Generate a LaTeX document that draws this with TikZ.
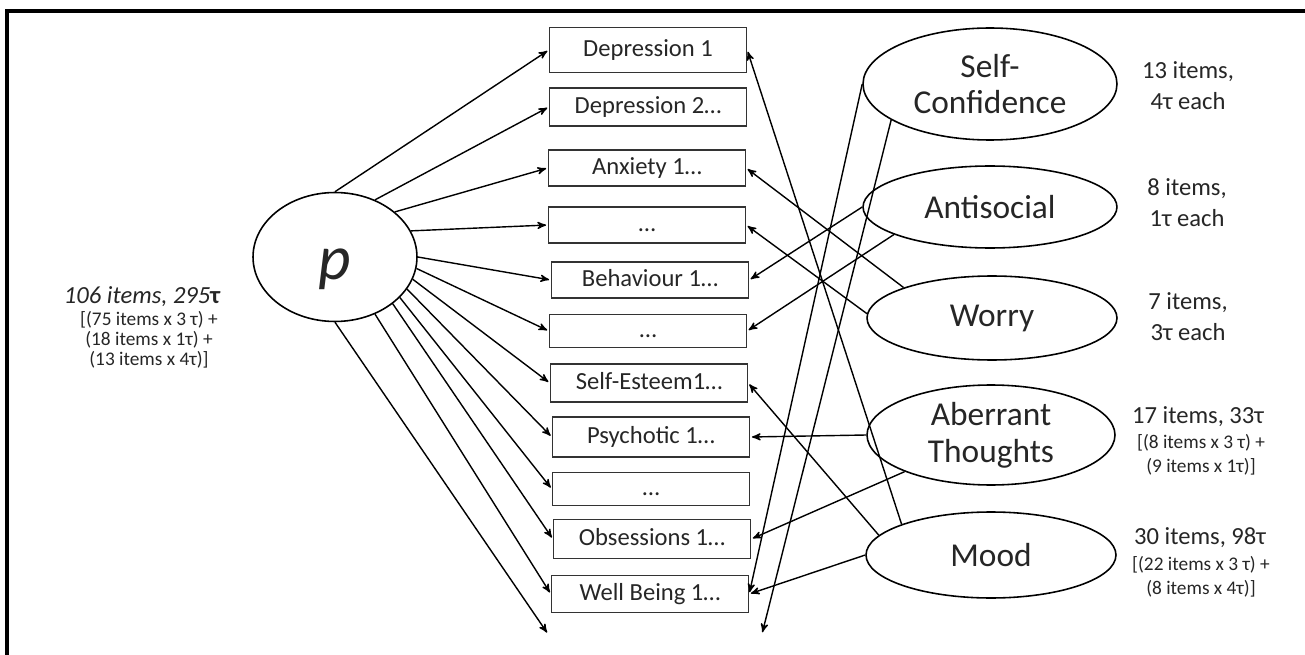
\documentclass[tikz,border=0pt]{standalone}
\usepackage{fontspec}
\setmainfont{Carlito}
\usetikzlibrary{arrows,shapes.geometric}
\tikzset{
	item/.style={draw=black!80, line width=0.8pt, minimum width=3.94cm, minimum height=0.72cm, inner sep=0pt, text height=10pt, text depth=3pt, font=\fontsize{14}{16}\selectfont},
	factor/.style={ellipse, draw, line width=0.9pt, inner sep=0pt, align=center, font=\fontsize{19}{21}\selectfont},
	count/.style={align=center, font=\fontsize{14}{17.5}\selectfont},
	split/.style={align=center, font=\fontsize{11}{13.5}\selectfont}
}

\begin{document}
\begin{tikzpicture}[->,>=stealth',shorten >=1pt,x=0.02cm,y=-0.02cm,line width=0.8pt,text=black!85]

	\useasboundingbox (0,0) rectangle (1305,655);
	\draw[-,line width=1.8pt,shorten >=0pt] (1305,11) -- (7,11) -- (7,655);

	\node[factor, minimum width=3.28cm, minimum height=2.58cm, text height=28pt, text depth=2pt, font=\fontsize{36}{40}\selectfont\itshape] (p) at (335,257) {p};

	\node[item, minimum height=0.9cm] (dep1) at (648,50) {Depression 1};
	\node[item, minimum height=0.76cm] (dep2) at (648,107) {Depression 2…};
	\node[item] (anx) at (647,168) {Anxiety 1…};
	\node[item] (dots1) at (647,225) {…};
	\node[item] (beh) at (650,280) {Behaviour 1…};
	\node[item, minimum height=0.66cm] (dots2) at (648,331) {…};
	\node[item, minimum height=0.76cm] (se) at (649,383) {Self-Esteem1…};
	\node[item, minimum height=0.8cm] (psy) at (651,437) {Psychotic 1…};
	\node[item, minimum height=0.66cm] (dots3) at (651,489) {…};
	\node[item, minimum height=0.78cm] (obs) at (652,539) {Obsessions 1…};
	\node[item, minimum height=0.74cm] (wb) at (650,594) {Well Being 1…};
	\coordinate (pend) at (548,634);
	\coordinate (confend) at (762,634);

	\node[factor, minimum width=5.08cm, minimum height=2.24cm] (conf) at (990,84) {Self-\\Confidence};
	\node[factor, minimum width=5.08cm, minimum height=1.64cm] (anti) at (990,207) {Antisocial};
	\node[factor, minimum width=5.0cm, minimum height=1.68cm] (worry) at (992,318) {Worry};
	\node[factor, minimum width=4.96cm, minimum height=2.0cm] (aber) at (991,435) {Aberrant\\Thoughts};
	\node[factor, minimum width=5.0cm, minimum height=1.72cm] (mood) at (991,555) {Mood};

	\node[count, font=\fontsize{14}{17.5}\selectfont\itshape] (ptotal) at (142,297) {106 items, 295{\upshape\bfseries τ}};
	\node[split, font=\fontsize{11}{11.5}\selectfont] (pmix) at (149,340) {[(75 items x 3 τ) +\\(18 items x 1τ) +\\(13 items x 4τ)]};
	\node[count] (conftotal) at (1188,86) {13 items,\\4τ each};
	\node[count] (antitotal) at (1187,203) {8 items,\\1τ each};
	\node[count] (worrytotal) at (1188,317) {7 items,\\3τ each};
	\node[count] (abertotal) at (1198,417) {17 items, 33τ};
	\node[split] (abermix) at (1201,455) {[(8 items x 3 τ) +\\(9 items x 1τ)]};
	\node[count] (moodtotal) at (1200,538) {30 items, 98τ};
	\node[split] (moodmix) at (1201,577) {[(22 items x 3 τ) +\\(8 items x 4τ)]};

	\path
	(p.90) edge (dep1.west)
	(p.55) edge (dep2.west)
	(p.37) edge (anx.west)
	(p.19) edge (dots1.west)
	(p.0) edge (beh.west)
	(p.-8) edge (dots2.west)
	(p.-16) edge (se.west)
	(p.-24) edge (psy.west)
	(p.-32) edge (dots3.west)
	(p.-39) edge (obs.west)
	(p.-55) edge (wb.west)
	(p.-90) edge (pend);

	\path
	(conf.180) edge (wb.east)
	(conf.200) edge (confend)
	(anti.180) edge (beh.east)
	(anti.196) edge (dots2.east)
	(worry.161) edge (anx.east)
	(worry.178) edge (dots1.east)
	(aber.180) edge (psy.east)
	(aber.203) edge (obs.east)
	(mood.161) edge (dep1.east)
	(mood.170) edge (se.east)
	(mood.180) edge (wb.east);
\end{tikzpicture}
\end{document}
